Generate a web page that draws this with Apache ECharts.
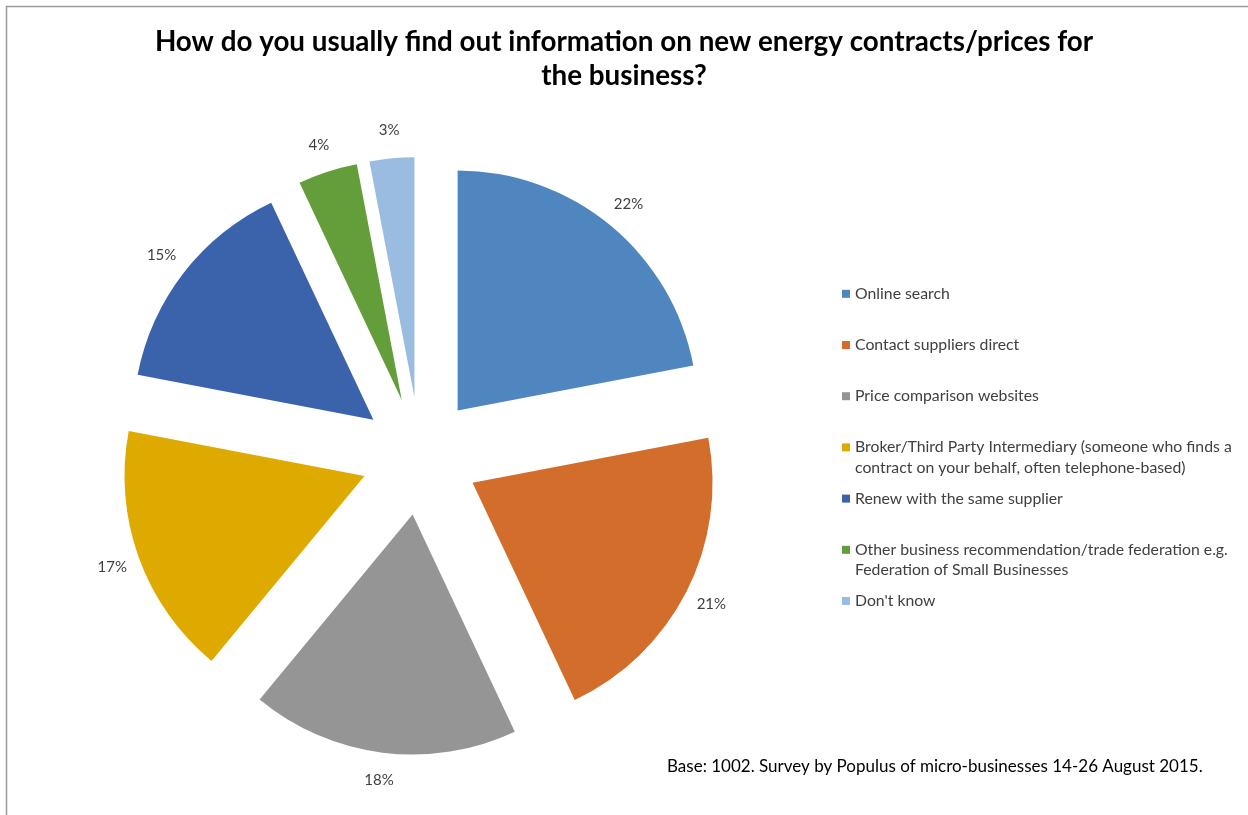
<!DOCTYPE html>
<html>
<head>
<meta charset="utf-8">
<script src="https://cdn.jsdelivr.net/npm/echarts@6/dist/echarts.min.js"></script>
<style>
  html, body { margin: 0; padding: 0; background: #ffffff; }
  #chart { width: 1248px; height: 815px; }
</style>
</head>
<body>
<div id="chart"></div>
<script>
// Survey answers (share of respondents, %)
const categories = [
  'Online search',
  'Contact suppliers direct',
  'Price comparison websites',
  'Broker/Third Party Intermediary (someone who finds a\ncontract on your behalf, often telephone-based)',
  'Renew with the same supplier',
  'Other business recommendation/trade federation e.g.\nFederation of Small Businesses',
  "Don't know"
];
const shares = [22, 21, 18, 17, 15, 4, 3];
const sliceColors = ['#4f86bf', '#d26d2b', '#959595', '#dfaa00', '#3a63ac', '#639e3a', '#9abce0'];

const titleText = 'How do you usually find out information on new energy contracts/prices for\nthe business?';
const noteText = 'Base: 1002. Survey by Populus of micro-businesses 14-26 August 2015.';

const FONT = 'Lato, "Liberation Sans", sans-serif';
const PIE_CENTER = [420, 456];
const EXPLODE = 59;

const chart = echarts.init(document.getElementById('chart'), null, { renderer: 'canvas' });

// Every slice is pulled out from the centre by the same distance
const sliceData = categories.map((name, i) => ({
  name,
  value: shares[i],
  selected: true,
  itemStyle: { color: sliceColors[i] }
}));

// Transparent ring just outside the pie that carries the percentage labels
const labelData = categories.map((name, i) => ({
  name,
  value: shares[i],
  selected: true,
  itemStyle: { color: 'rgba(0,0,0,0)' }
}));

// Legend rows are all two text lines tall; the marker sits beside the first line.
// The icon box is 8x40 and the square occupies its upper part.
const LEGEND_ICON = 'path://M0,0M0,6h8v8h-8zM0,40';

chart.setOption({
  animation: false,
  backgroundColor: '#ffffff',
  title: [
    {
      text: titleText,
      left: 'center',
      top: 25,
      padding: 0,
      textStyle: {
        fontFamily: FONT,
        fontSize: 27.8,
        fontWeight: 'bold',
        color: '#000000',
        lineHeight: 34
      }
    },
    {
      text: noteText,
      left: 667,
      top: 757,
      padding: 0,
      textStyle: {
        fontFamily: FONT,
        fontSize: 17,
        fontWeight: 'normal',
        color: '#000000',
        lineHeight: 20
      }
    }
  ],
  legend: {
    orient: 'vertical',
    left: 842,
    top: 283.5,
    itemWidth: 8,
    itemHeight: 40,
    itemGap: 10.6,
    icon: LEGEND_ICON,
    itemStyle: { borderWidth: 0 },
    padding: 0,
    selectedMode: false,
    data: categories,
    formatter: name => (name.indexOf('\n') >= 0 ? name : name + '\n '),
    textStyle: {
      fontFamily: FONT,
      fontSize: 15.8,
      color: '#404040',
      lineHeight: 20.3
    }
  },
  graphic: [
    {
      type: 'rect',
      silent: true,
      shape: { x: 6.5, y: 6.5, width: 1300, height: 900 },
      style: { fill: 'none', stroke: '#9a9a9a', lineWidth: 1.5 }
    }
  ],
  series: [
    {
      type: 'pie',
      center: PIE_CENTER,
      radius: 240,
      startAngle: 90,
      clockwise: true,
      selectedMode: 'multiple',
      selectedOffset: EXPLODE,
      avoidLabelOverlap: false,
      label: { show: false },
      labelLine: { show: false },
      itemStyle: { borderWidth: 0 },
      emphasis: { disabled: true },
      data: sliceData
    },
    {
      type: 'pie',
      center: PIE_CENTER,
      radius: [255, 275],
      startAngle: 90,
      clockwise: true,
      silent: true,
      selectedMode: 'multiple',
      selectedOffset: EXPLODE,
      avoidLabelOverlap: false,
      itemStyle: { borderWidth: 0 },
      emphasis: { disabled: true },
      labelLine: { show: false },
      label: {
        show: true,
        position: 'inside',
        rotate: 0,
        formatter: '{c}%',
        fontFamily: FONT,
        fontSize: 15,
        color: '#404040'
      },
      data: labelData
    }
  ]
});
</script>
</body>
</html>
